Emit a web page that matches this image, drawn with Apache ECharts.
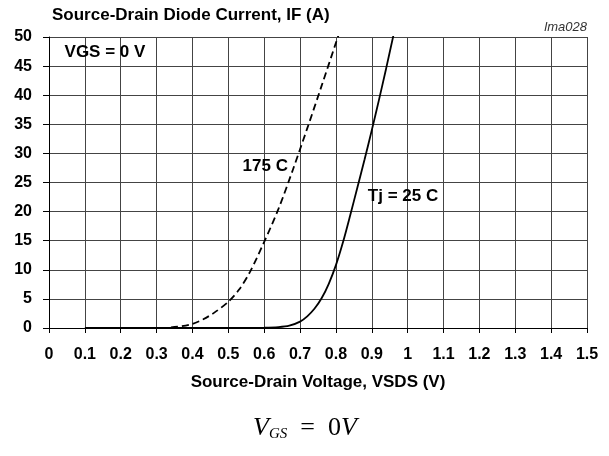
<!DOCTYPE html>
<html>
<head>
<meta charset="utf-8">
<script src="https://cdn.jsdelivr.net/npm/echarts@6/dist/echarts.min.js"></script>
<style>
html,body{margin:0;padding:0;background:#fff;}
#c{width:609px;height:456px;}
</style>
</head>
<body>
<div id="c"></div>
<script>
// Tj = 25 C (solid)
var v25 = [0.10, 0.20, 0.30, 0.40, 0.50, 0.60, 0.64, 0.67, 0.70, 0.72, 0.74, 0.76, 0.78, 0.80, 0.82, 0.84, 0.86, 0.88, 0.90, 0.92, 0.94, 0.96];
var i25 = [0.0, 0.0, 0.0, 0.0, 0.0, 0.05, 0.15, 0.4, 1.1, 2.0, 3.3, 5.1, 7.6, 10.8, 14.8, 19.4, 24.2, 29.0, 34.0, 39.2, 44.6, 50.2];
// 175 C (dashed)
var v175 = [0.34, 0.37, 0.40, 0.43, 0.46, 0.50, 0.53, 0.56, 0.60, 0.64, 0.68, 0.72, 0.76, 0.80, 0.81];
var i175 = [0.1, 0.3, 0.7, 1.5, 2.6, 4.5, 6.6, 9.6, 14.8, 20.5, 27.2, 34.3, 41.6, 49.0, 50.8];
// tick labels
var xTickLabels = ['0','0.1','0.2','0.3','0.4','0.5','0.6','0.7','0.8','0.9','1','1.1','1.2','1.3','1.4','1.5'];
var yTickLabels = ['0','5','10','15','20','25','30','35','40','45','50'];
// annotations (data coordinates)
var annoText = ['VGS = 0 V', '175 C', 'Tj = 25 C'];
var annoX = [0.156, 0.603, 0.987];
var annoY = [47.3, 27.7, 22.6];

function pairs(xs, ys){ return xs.map(function(x,i){ return [x, ys[i]]; }); }

var font = 'Liberation Sans, Arial, sans-serif';
var chart = echarts.init(document.getElementById('c'), null, {renderer:'canvas'});
var marks = annoText.map(function(t,i){
  return {coord:[annoX[i], annoY[i]], value:t};
});
var serif = 'Liberation Serif, Times New Roman, serif';
chart.setOption({
  animation:false,
  backgroundColor:'#fff',
  grid:{left:49, right:22, top:37, bottom:128, show:false},
  xAxis:{
    type:'value', min:0, max:1.5, interval:0.1,
    name:'Source-Drain Voltage, VSDS (V)', nameLocation:'middle', nameGap:46,
    nameTextStyle:{fontFamily:font, fontWeight:'bold', fontSize:17, color:'#000'},
    axisLine:{show:true, onZero:false, lineStyle:{color:'#000', width:1}},
    axisTick:{show:true, length:5, lineStyle:{color:'#000'}},
    axisLabel:{margin:19, fontFamily:font, fontWeight:'bold', fontSize:16, color:'#000',
      formatter:function(v){ return xTickLabels[Math.round(v*10)]; }},
    splitLine:{show:true, lineStyle:{color:'#444', width:1}}
  },
  yAxis:{
    type:'value', min:0, max:50, interval:5,
    name:'Source-Drain Diode Current, IF (A)', nameLocation:'end', nameGap:13,
    nameTextStyle:{fontFamily:font, fontWeight:'bold', fontSize:17, color:'#000', align:'left', padding:[0,0,0,3]},
    axisLine:{show:true, lineStyle:{color:'#000', width:1}},
    axisTick:{show:true, length:6, lineStyle:{color:'#000'}},
    axisLabel:{margin:17, fontFamily:font, fontWeight:'bold', fontSize:16, color:'#000',
      formatter:function(v){ return yTickLabels[Math.round(v/5)]; }},
    splitLine:{show:true, lineStyle:{color:'#444', width:1}}
  },
  series:[
    {type:'line', name:'Tj = 25 C', data:pairs(v25,i25), smooth:0.3, showSymbol:false, clip:true,
     lineStyle:{color:'#000', width:1.8},
     markPoint:{symbol:'rect', symbolSize:0, silent:true, data:marks,
       label:{show:true, position:'inside', formatter:function(p){return p.value;},
         fontFamily:font, fontWeight:'bold', fontSize:17, color:'#000'}}},
    {type:'line', name:'175 C', data:pairs(v175,i175), smooth:0.3, showSymbol:false, clip:true,
     lineStyle:{color:'#000', width:1.8, type:[7,4]}}
  ],
  graphic:[
    {type:'text', right:22, top:21, style:{text:'lma028', font:'italic 13px Liberation Sans, Arial, sans-serif', fill:'#333'}},
    {type:'text', left:253, top:415, style:{
      text:'{v|V}{s|GS}{n|  =  0}{v|V}',
      rich:{
        v:{fontFamily:serif, fontStyle:'italic', fontSize:26, fill:'#000'},
        s:{fontFamily:serif, fontStyle:'italic', fontSize:15, fill:'#000', verticalAlign:'bottom', padding:[12,0,0,0]},
        n:{fontFamily:serif, fontSize:26, fill:'#000'}
      }
    }}
  ]
});
</script>
</body>
</html>
